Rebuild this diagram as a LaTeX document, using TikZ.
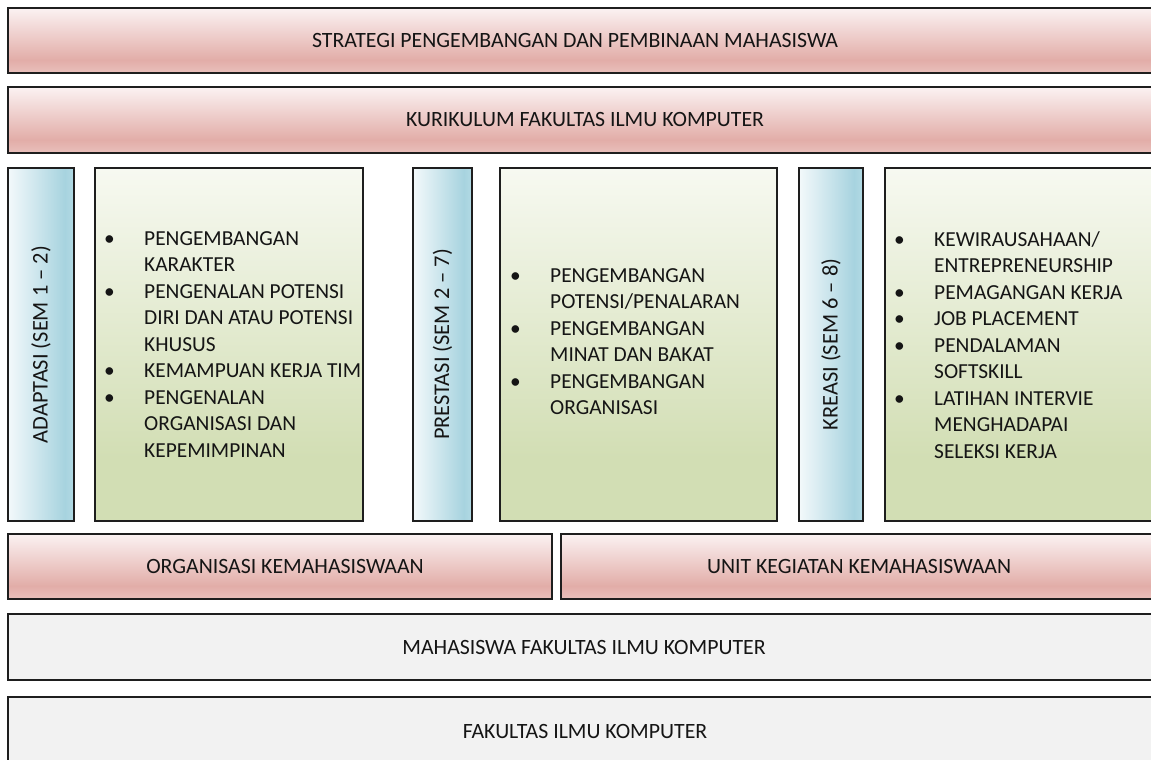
\documentclass[tikz,border=0pt]{standalone}
\usepackage{fontspec}
\setmainfont{Carlito}
\usetikzlibrary{shadows}
\definecolor{pkA}{HTML}{FBF2F2}
\definecolor{pkB}{HTML}{E2ADA8}
\definecolor{pkC}{HTML}{E9C0BC}
\definecolor{blA}{HTML}{F3F9FB}
\definecolor{blB}{HTML}{A7D3DF}
\definecolor{blC}{HTML}{B2DAE4}
\definecolor{grA}{HTML}{F7F9F1}
\definecolor{grB}{HTML}{D2DEB4}
\definecolor{gyA}{HTML}{F2F2F2}
\definecolor{txt}{HTML}{151515}
\definecolor{edge}{HTML}{1E1E1E}
\pgfdeclareverticalshading{pinkshade}{100bp}{color(0bp)=(pkC); color(25bp)=(pkC); color(35bp)=(pkB); color(75bp)=(pkA); color(100bp)=(pkA)}
\pgfdeclarehorizontalshading{blueshade}{100bp}{color(0bp)=(blA); color(25bp)=(blA); color(68bp)=(blB); color(75bp)=(blC); color(100bp)=(blC)}
\pgfdeclareverticalshading{greenshade}{100bp}{color(0bp)=(grB); color(25bp)=(grB); color(34bp)=(grB); color(75bp)=(grA); color(100bp)=(grA)}
\newcommand{\bul}{\makebox[40pt][l]{•}}
\newcommand{\ind}{\hspace*{40pt}}
\begin{document}
\begin{tikzpicture}[x=1pt,y=-1pt,
  box/.style={rectangle, draw=edge, line width=1.1pt, inner sep=0pt, outer sep=0pt, anchor=north west,
    drop shadow={shadow xshift=1.2pt, shadow yshift=-1.4pt, fill=black!45, opacity=0.6}},
  pinkbox/.style={box, shading=pinkshade},
  bluebox/.style={box, shading=blueshade},
  greenbox/.style={box, shading=greenshade},
  greybox/.style={box, fill=gyA},
  lbl/.style={font=\fontsize{21.8}{26.5}\selectfont, text=txt, inner sep=0pt},
  vlbl/.style={lbl, rotate=90, font=\fontsize{22.4}{26.5}\selectfont},
  lst/.style={lbl, align=left, anchor=north west, font=\fontsize{21.4}{26.5}\selectfont}
]
\useasboundingbox (0,0) rectangle (1151,760);
\clip (0,0) rectangle (1151,760);
\fill[white] (0,0) rectangle (1151,760);

% top rows
\node[pinkbox, minimum width=1170pt, minimum height=65pt] (strat) at (8,8) {};
\node[lbl] (stratT) at (575,40.5) {STRATEGI PENGEMBANGAN DAN PEMBINAAN MAHASISWA};
\node[pinkbox, minimum width=1170pt, minimum height=66pt] (kur) at (8,87) {};
\node[lbl] (kurT) at (585,120) {KURIKULUM FAKULTAS ILMU KOMPUTER};

% columns
\node[bluebox, minimum width=66pt, minimum height=353pt] (adp) at (8,168) {};
\node[vlbl] (adpT) at (41,344.5) {ADAPTASI (SEM 1 – 2)};
\node[greenbox, minimum width=268pt, minimum height=353pt] (g1) at (95,168) {};
\node[bluebox, minimum width=59pt, minimum height=353pt] (pre) at (413,168) {};
\node[vlbl] (preT) at (442.5,344.5) {PRESTASI (SEM 2 – 7)};
\node[greenbox, minimum width=277pt, minimum height=353pt] (g2) at (500,168) {};
\node[bluebox, minimum width=64pt, minimum height=353pt] (kre) at (799,168) {};
\node[vlbl] (kreT) at (831,344.5) {KREASI (SEM 6 – 8)};
\node[greenbox, minimum width=300pt, minimum height=353pt] (g3) at (885,168) {};

\node[lst] (l1) at (104,231) {\bul PENGEMBANGAN\\ \ind KARAKTER\\ \bul PENGENALAN POTENSI\\ \ind DIRI DAN ATAU POTENSI\\ \ind KHUSUS\\ \bul KEMAMPUAN KERJA TIM\\ \bul PENGENALAN\\ \ind ORGANISASI DAN\\ \ind KEPEMIMPINAN};
\node[lst] (l2) at (510,268) {\bul PENGEMBANGAN\\ \ind POTENSI/PENALARAN\\ \bul PENGEMBANGAN\\ \ind MINAT DAN BAKAT\\ \bul PENGEMBANGAN\\ \ind ORGANISASI};
\node[lst] (l3) at (894,231) {\bul KEWIRAUSAHAAN/\\ \ind ENTREPRENEURSHIP\\ \bul PEMAGANGAN KERJA\\ \bul JOB PLACEMENT\\ \bul PENDALAMAN\\ \ind SOFTSKILL\\ \bul LATIHAN INTERVIE\\ \ind MENGHADAPAI\\ \ind SELEKSI KERJA};

% bottom rows
\node[pinkbox, minimum width=544pt, minimum height=65pt] (org) at (8,534) {};
\node[lbl] (orgT) at (285,566.5) {ORGANISASI KEMAHASISWAAN};
\node[pinkbox, minimum width=620pt, minimum height=65pt] (ukm) at (561,534) {};
\node[lbl] (ukmT) at (859,566.5) {UNIT KEGIATAN KEMAHASISWAAN};
\node[greybox, minimum width=1170pt, minimum height=66pt] (mhs) at (8,614) {};
\node[lbl] (mhsT) at (584,647) {MAHASISWA FAKULTAS ILMU KOMPUTER};
\node[greybox, minimum width=1170pt, minimum height=68pt] (fak) at (8,697) {};
\node[lbl] (fakT) at (585,731) {FAKULTAS ILMU KOMPUTER};
\end{tikzpicture}
\end{document}
